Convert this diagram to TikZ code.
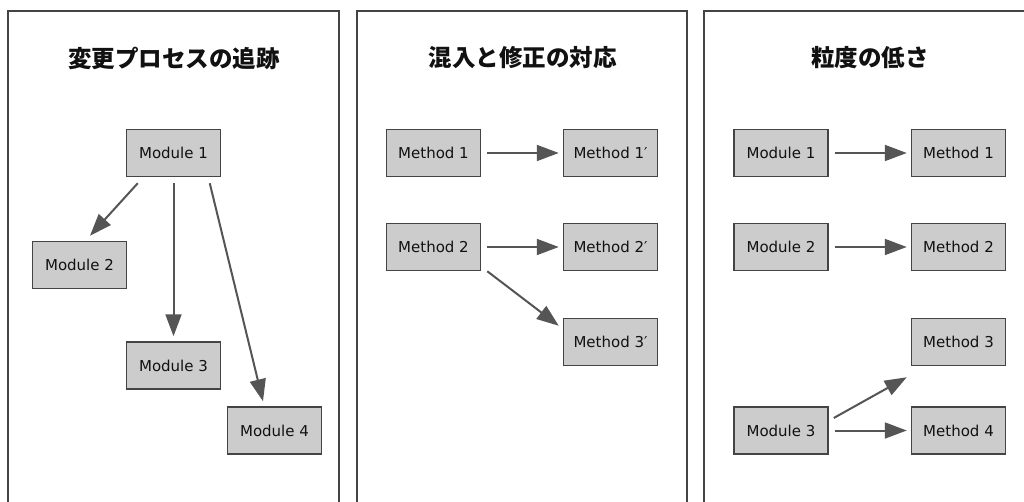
\documentclass[tikz,border=0pt]{standalone}
\usepackage{fontspec}
\setmainfont{DejaVu Sans}
\newfontfamily\cjk{Noto Sans CJK JP}
\usetikzlibrary{arrows.meta,calc}
\definecolor{boxline}{HTML}{444444}
\definecolor{boxfill}{HTML}{CCCCCC}
\definecolor{arrowc}{HTML}{555555}
\definecolor{txt}{HTML}{111111}
\begin{document}
\begin{tikzpicture}[x=1pt,y=-1pt,
  box/.style={draw=boxline, fill=boxfill, line width=1.5pt, minimum width=94pt, minimum height=47pt, inner sep=0pt, font=\fontsize{15}{18}\selectfont, text=txt},
  conn/.style={draw=arrowc, line width=2pt, -{Triangle[length=22pt,width=16pt]}},
  panel/.style={draw=boxline, line width=1.5pt},
  ttl/.style={font=\cjk\bfseries\fontsize{23.5}{28}\selectfont, text=txt}]
\useasboundingbox (0,0) rectangle (1024,502);
\clip (0,0) rectangle (1024,502);
\fill[white] (0,0) rectangle (1024,502);
% panels
\draw[panel] (8,11) rectangle (339,530);
\draw[panel] (357,11) rectangle (687,530);
\draw[panel] (704,11) rectangle (1036,530);
% titles
\node[ttl] (t1) at (174,58) {変更プロセスの追跡};
\node[ttl] (t2) at (522.5,58) {混入と修正の対応};
\node[ttl] (t3) at (870,58) {粒度の低さ};
% panel 1
\node[box] (m1) at (173.5,153) {Module 1};
\node[box] (m2) at (79.5,265) {Module 2};
\node[box] (m3) at (173.5,365.5) {Module 3};
\node[box] (m4) at (274.5,430.5) {Module 4};
\draw[conn] ([shift={(12,6)}]m1.south west) -- ([shift={(10.5,-5)}]m2.north);
\draw[conn] ([shift={(0,6)}]m1.south) -- ([shift={(0,-5)}]m3.north);
\draw[conn] ([shift={(-11.5,6)}]m1.south east) -- ([shift={(-11.5,-5)}]m4.north);
% panel 2
\node[box] (a1) at (433.5,153) {Method 1};
\node[box] (b1) at (610.5,153) {Method 1′};
\node[box] (a2) at (433.5,247) {Method 2};
\node[box] (b2) at (610.5,247) {Method 2′};
\node[box] (b3) at (610.5,342) {Method 3′};
\draw[conn] ([xshift=6]a1.east) -- ([xshift=-4]b1.west);
\draw[conn] ([xshift=6]a2.east) -- ([xshift=-4]b2.west);
\draw[conn] ([shift={(6,0)}]a2.south east) -- ([shift={(-4,8)}]b3.north west);
% panel 3
\node[box] (c1) at (781,153) {Module 1};
\node[box] (d1) at (958.5,153) {Method 1};
\node[box] (c2) at (781,247) {Module 2};
\node[box] (d2) at (958.5,247) {Method 2};
\node[box] (d3) at (958.5,342) {Method 3};
\node[box] (c3) at (781,430.5) {Module 3};
\node[box] (d4) at (958.5,430.5) {Method 4};
\draw[conn] ([xshift=6]c1.east) -- ([xshift=-4]d1.west);
\draw[conn] ([xshift=6]c2.east) -- ([xshift=-4]d2.west);
\draw[conn] ([shift={(5,-12.5)}]c3.east) -- ([shift={(-4,11)}]d3.south west);
\draw[conn] ([xshift=6]c3.east) -- ([xshift=-4]d4.west);
\end{tikzpicture}
\end{document}
